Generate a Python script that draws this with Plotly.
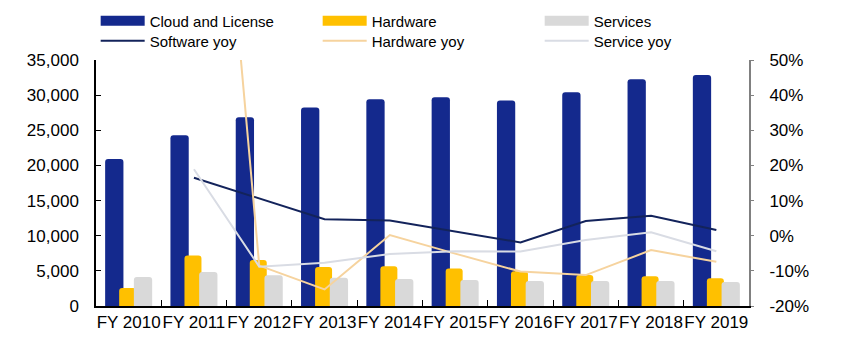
import plotly.graph_objects as go

categories = ["FY 2010", "FY 2011", "FY 2012", "FY 2013", "FY 2014",
              "FY 2015", "FY 2016", "FY 2017", "FY 2018", "FY 2019"]
cloud_license = [20900, 24300, 26850, 28250, 29400, 29700, 29250, 30400, 32250, 32850]
hardware = [2560, 7200, 6550, 5550, 5650, 5350, 4950, 4420, 4220, 3950]
services = [4130, 4840, 4360, 4030, 3850, 3700, 3560, 3560, 3560, 3420]
software_yoy = [None, 16.5, 10.5, 4.7, 4.3, 1.1, -1.9, 4.2, 5.7, 1.6]
hardware_yoy = [None, 200, -8.5, -15.3, 0.2, -5.1, -10.2, -11.2, -4.1, -7.4]
service_yoy = [None, 18.9, -8.8, -7.7, -5.2, -4.4, -4.5, -1.2, 1.0, -4.4]
left_ticks = [0, 5000, 10000, 15000, 20000, 25000, 30000, 35000]
right_ticks = [-20, -10, 0, 10, 20, 30, 40, 50]
right_tick_text = ["-20%", "-10%", "0%", "10%", "20%", "30%", "40%", "50%"]

xpos = list(range(len(categories)))
FONT = "Liberation Sans, Arial, sans-serif"
C_CLOUD, C_HW, C_SV = "#14298D", "#FFC000", "#D9D9D9"

fig = go.Figure()
fig.add_bar(x=xpos, y=cloud_license, name="Cloud and License", showlegend=False,
            marker=dict(color=C_CLOUD, line=dict(width=0)), offset=-0.36, width=0.28)
fig.add_bar(x=xpos, y=hardware, name="Hardware", showlegend=False,
            marker=dict(color=C_HW, line=dict(width=0)), offset=-0.145, width=0.26)
fig.add_bar(x=xpos, y=services, name="Services", showlegend=False,
            marker=dict(color=C_SV, line=dict(width=0)), offset=0.08, width=0.28)
# legend entries for bars drawn as wide swatches
for nm, col in [("Cloud and License", C_CLOUD), ("Hardware", C_HW), ("Services", C_SV)]:
    fig.add_scatter(x=[None], y=[None], name=nm, mode="lines",
                    line=dict(color=col, width=11), legend="legend")
fig.add_scatter(x=xpos, y=software_yoy, name="Software yoy", mode="lines",
                line=dict(color="#13235B", width=2), yaxis="y2", legend="legend2")
fig.add_scatter(x=xpos, y=hardware_yoy, name="Hardware yoy", mode="lines",
                line=dict(color="#F6D39E", width=2), yaxis="y2", legend="legend2")
fig.add_scatter(x=xpos, y=service_yoy, name="Service yoy", mode="lines",
                line=dict(color="#D9DCE4", width=2), yaxis="y2", legend="legend2")

leg_common = dict(orientation="h", xanchor="left", yanchor="middle",
                  entrywidth=163, entrywidthmode="pixels", itemwidth=44,
                  font=dict(size=15, family=FONT), tracegroupgap=0,
                  bgcolor="rgba(0,0,0,0)")

fig.update_layout(
    width=850, height=354,
    margin=dict(l=96, r=101, t=60, b=48, autoexpand=False),
    paper_bgcolor="white", plot_bgcolor="white",
    font=dict(family=FONT, size=17, color="#000000"),
    barmode="overlay", barcornerradius=3,
    showlegend=True,
    legend=dict(x=-0.0005, y=1.1585, **leg_common),
    legend2=dict(x=-0.0005, y=1.0772, **leg_common),
    xaxis=dict(range=[-0.5, 9.5], tickmode="array", tickvals=xpos, ticktext=categories,
               tickangle=0, ticks="", showline=True, linecolor="#000000", linewidth=1.5,
               showgrid=False, zeroline=False, tickfont=dict(size=17),
               minor=dict(tickmode="array", tickvals=[i + 0.5 for i in range(9)],
                          ticks="inside", ticklen=6, tickcolor="#000000", tickwidth=1,
                          showgrid=False)),
    yaxis=dict(range=[0, 35000], tickmode="array", tickvals=left_ticks, tickformat=",",
               showgrid=False, showline=True, linecolor="#000000", linewidth=1.5,
               ticks="inside", ticklen=5, tickcolor="#000000", zeroline=False,
               ticklabelstandoff=12, tickfont=dict(size=17)),
    yaxis2=dict(range=[-20, 50], tickmode="array", tickvals=right_ticks,
                ticktext=right_tick_text, overlaying="y", side="right",
                showgrid=False, showline=True, linecolor="#808080", linewidth=2,
                ticks="outside", ticklen=3, tickcolor="#808080", zeroline=False,
                ticklabelstandoff=12, tickfont=dict(size=17)),
)

fig.write_html("out.html")
